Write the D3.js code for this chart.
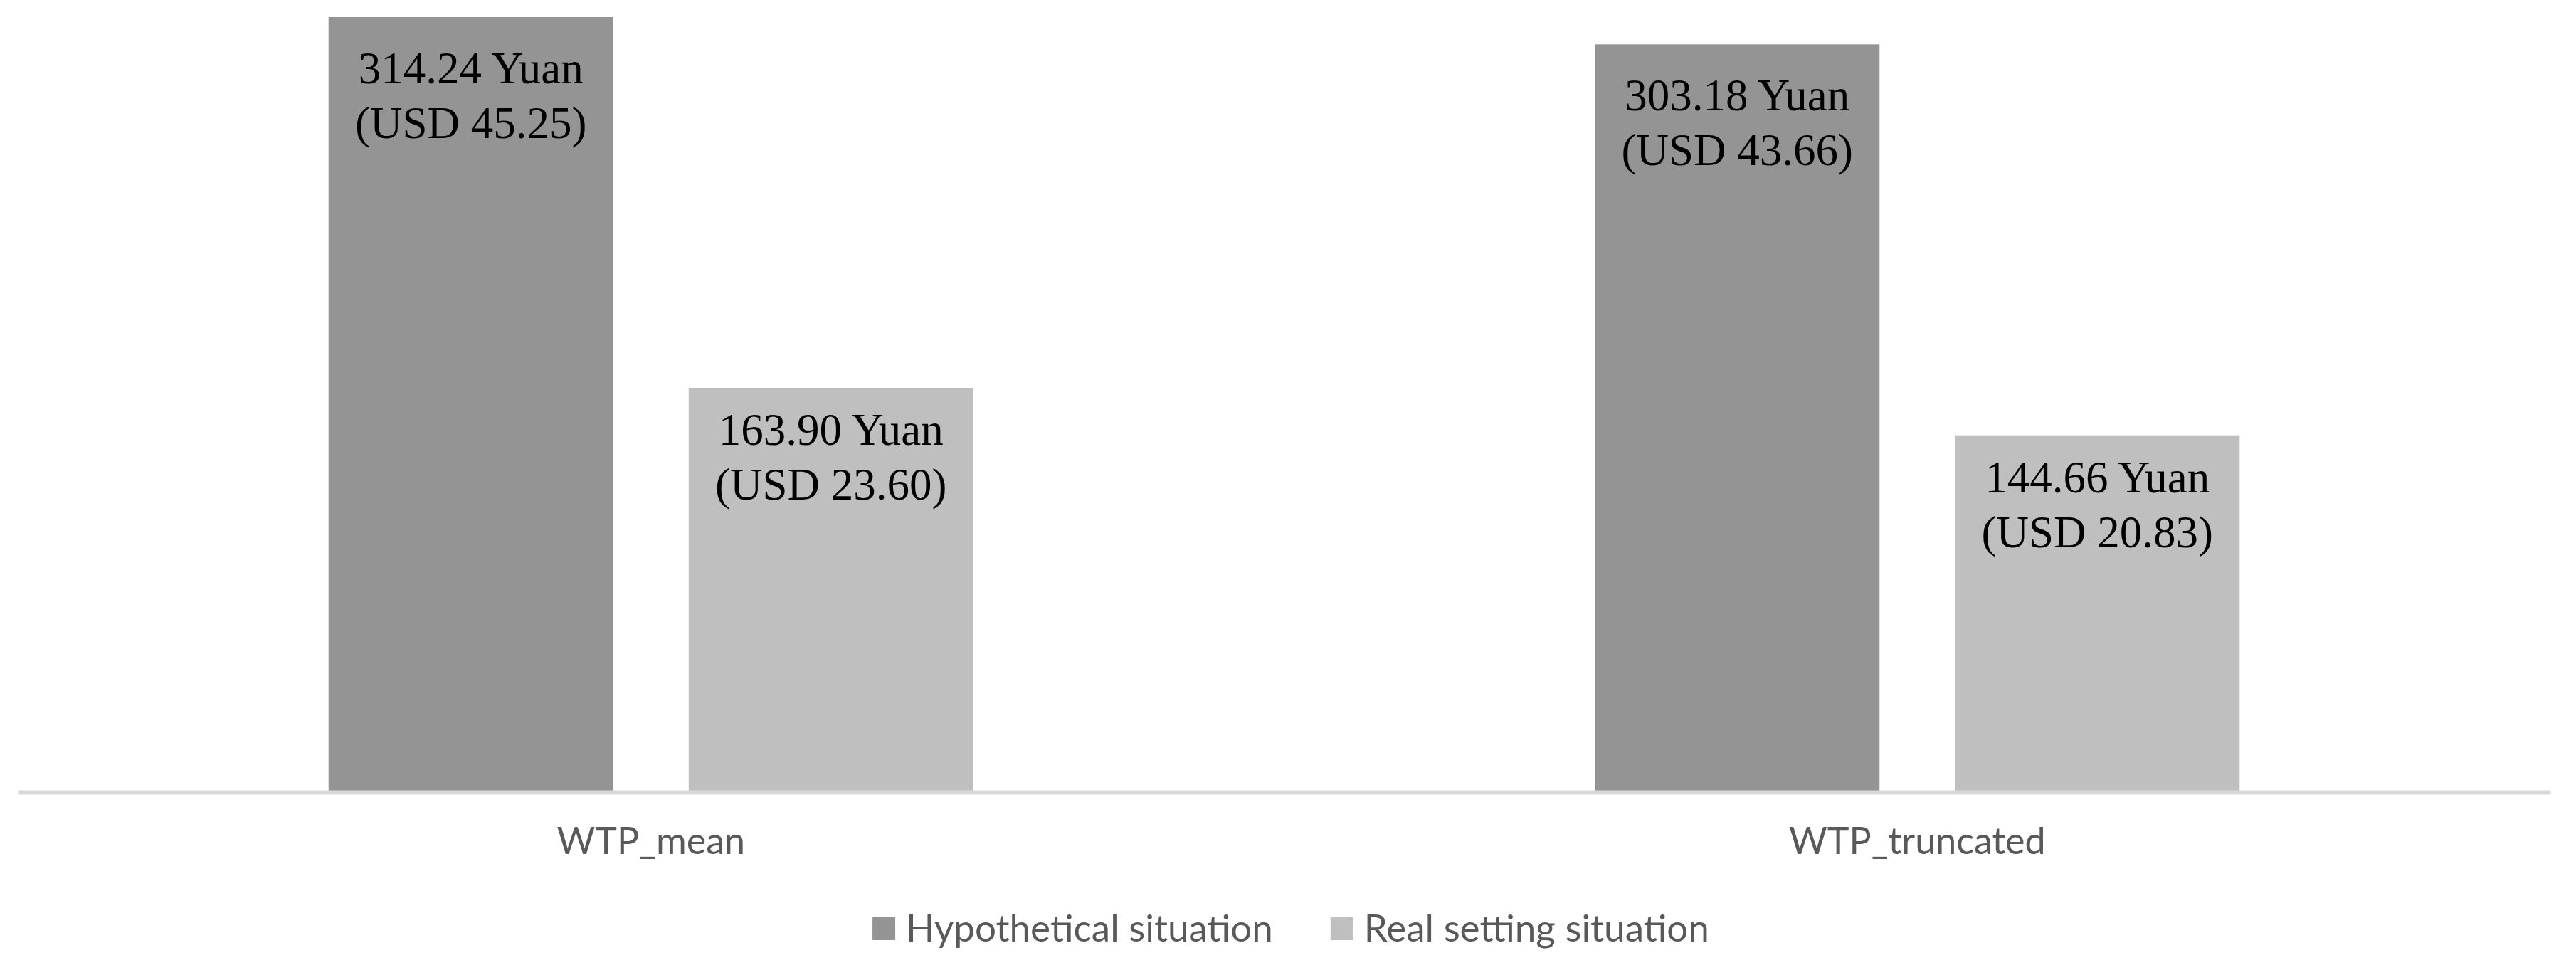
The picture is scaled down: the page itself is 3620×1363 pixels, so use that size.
<!DOCTYPE html>
<html><head><meta charset="utf-8">
<script src="https://cdn.jsdelivr.net/npm/d3@7"></script>
<style>html,body{margin:0;padding:0;background:#fff;overflow:hidden}</style>
</head><body>
<svg id="chart" width="3620" height="1363"></svg>
<script>
// ---- data ----
const categories = ["WTP_mean", "WTP_truncated"];
const seriesNames = ["Hypothetical situation", "Real setting situation"];
const hypotheticalYuan = [314.24, 303.18];
const realYuan = [163.90, 144.66];
const hypotheticalUSD = [45.25, 43.66];
const realUSD = [23.60, 20.83];

// ---- styles / layout ----
const seriesColors = ["#949494", "#bfbfbf"];
const labelOffsets = [93, 80]; // distance of first label line below bar top, per series
const W = 3620, H = 1363;
const baseY = 1113, topY = 24;
const svg = d3.select("#chart");
svg.append("rect").attr("width", W).attr("height", H).attr("fill", "#fff");

const x0 = d3.scaleBand().domain(categories).range([25, 3584]).paddingInner(0).paddingOuter(0);
const x1 = d3.scaleBand().domain(seriesNames).range([0, x0.bandwidth()])
  .paddingInner(0.2095).paddingOuter(0.863);
const y = d3.scaleLinear().domain([0, d3.max(hypotheticalYuan)]).range([baseY, topY]);
const color = d3.scaleOrdinal().domain(seriesNames).range(seriesColors);

const rows = [];
categories.forEach((c, i) => {
  rows.push({cat: c, s: seriesNames[0], si: 0, v: hypotheticalYuan[i], usd: hypotheticalUSD[i]});
  rows.push({cat: c, s: seriesNames[1], si: 1, v: realYuan[i], usd: realUSD[i]});
});

const g = svg.append("g");
g.selectAll("rect.bar").data(rows).join("rect")
  .attr("class", "bar")
  .attr("x", d => x0(d.cat) + x1(d.s))
  .attr("y", d => y(d.v))
  .attr("width", x1.bandwidth())
  .attr("height", d => baseY - y(d.v))
  .attr("fill", d => color(d.s));

const lab = g.selectAll("text.lab").data(rows).join("text")
  .attr("class", "lab")
  .attr("text-anchor", "middle")
  .attr("font-family", "'Liberation Serif', 'DejaVu Serif', serif")
  .attr("font-size", 63)
  .attr("fill", "#000")
  .attr("x", d => x0(d.cat) + x1(d.s) + x1.bandwidth() / 2)
  .attr("y", d => y(d.v) + labelOffsets[d.si]);
lab.append("tspan").text(d => `${d.v.toFixed(2)} Yuan`);
lab.append("tspan")
  .attr("x", d => x0(d.cat) + x1(d.s) + x1.bandwidth() / 2)
  .attr("dy", 77)
  .text(d => `(USD ${d.usd.toFixed(2)})`);

// axis
const axis = svg.append("g").attr("transform", `translate(0,${baseY})`)
  .call(d3.axisBottom(x0).tickSize(0).tickSizeOuter(0));
axis.select(".domain").attr("stroke", "#d9d9d9").attr("stroke-width", 6);
axis.selectAll(".tick text")
  .attr("y", 87).attr("dy", 0)
  .attr("font-family", "Lato, 'Open Sans', sans-serif")
  .attr("font-size", 52)
  .attr("fill", "#595959");

// legend
const leg = svg.append("g");
const items = leg.selectAll("g").data(seriesNames).join("g");
items.append("rect").attr("width", 32).attr("height", 32).attr("y", 1289)
  .attr("fill", d => color(d));
items.append("text").attr("x", 47).attr("y", 1323)
  .attr("font-family", "Lato, 'Open Sans', sans-serif")
  .attr("font-size", 53).attr("fill", "#595959")
  .text(d => d);
let widths = [];
items.each(function() { widths.push(47 + d3.select(this).select("text").node().getComputedTextLength()); });
const gapItems = 81;
const total = d3.sum(widths) + gapItems * (widths.length - 1);
let cx = 1814 - total / 2;
items.each(function(d, i) {
  d3.select(this).attr("transform", `translate(${cx},0)`);
  cx += widths[i] + gapItems;
});
</script>
</body></html>
